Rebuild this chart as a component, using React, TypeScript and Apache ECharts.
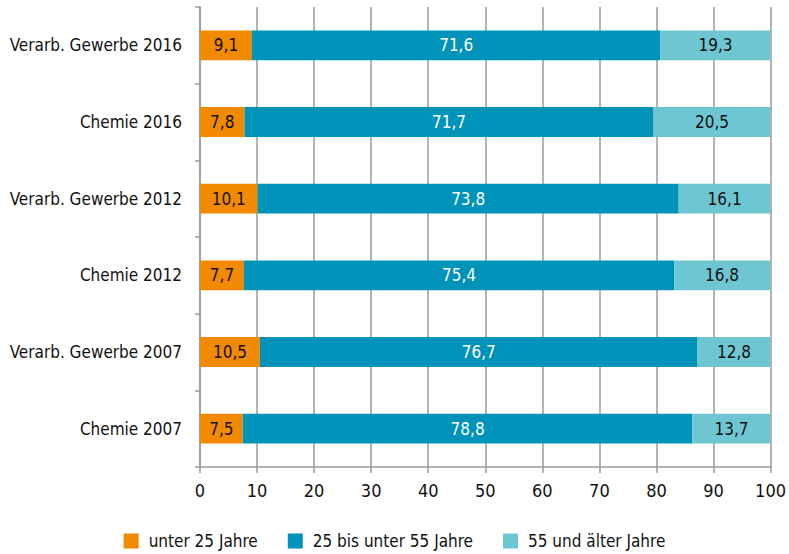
import React, { useEffect, useRef } from "react";
import * as echarts from "echarts";

const categories = [
  "Verarb. Gewerbe 2016",
  "Chemie 2016",
  "Verarb. Gewerbe 2012",
  "Chemie 2012",
  "Verarb. Gewerbe 2007",
  "Chemie 2007",
];
const under25 = [9.1, 7.8, 10.1, 7.7, 10.5, 7.5];
const mid25to55 = [71.6, 71.7, 73.8, 75.4, 76.7, 78.8];
const over55 = [19.3, 20.5, 16.1, 16.8, 12.8, 13.7];
const seriesNames = ["unter 25 Jahre", "25 bis unter 55 Jahre", "55 und älter Jahre"];
const colors = ["#F18A00", "#0093BA", "#6EC6D2"];
const labelColors = ["#111", "#fff", "#111"];

const FONT = "'Liberation Sans Narrow', 'DejaVu Sans Condensed', 'Roboto', sans-serif";

export default function App() {
  const ref = useRef<HTMLDivElement>(null);
  useEffect(() => {
    document.body.style.margin = "0";
    if (!ref.current) return;
    const chart = echarts.init(ref.current, undefined, { renderer: "svg" });
    const data = [under25, mid25to55, over55];
    chart.setOption({
      animation: false,
      textStyle: { fontFamily: FONT },
      grid: { left: 200, right: 17, top: 7, bottom: 87, containLabel: false },
      legend: {
        top: 531,
        left: "center",
        padding: 0,
        itemWidth: 15,
        itemHeight: 15,
        itemGap: 30,
        icon: "rect",
        textStyle: { fontFamily: FONT, fontSize: 17, lineHeight: 20, color: "#111", padding: [0, 0, 0, 5] },
        data: seriesNames,
      },
      xAxis: {
        type: "value",
        min: 0,
        max: 100,
        interval: 10,
        axisLine: { show: true, lineStyle: { color: "#9a9a9a", width: 1.5 } },
        axisTick: { show: true, length: 6, lineStyle: { color: "#9a9a9a", width: 1.5 } },
        splitLine: { show: true, lineStyle: { color: "#9a9a9a", width: 1.5 } },
        axisLabel: { fontFamily: FONT, fontSize: 18, color: "#111", margin: 14 },
      },
      yAxis: {
        type: "category",
        inverse: true,
        data: categories,
        axisLine: { show: true, lineStyle: { color: "#9a9a9a", width: 1.5 } },
        axisTick: { show: true, length: 5, lineStyle: { color: "#9a9a9a", width: 1.5 } },
        axisLabel: { fontFamily: FONT, fontSize: 17, color: "#111", margin: 18 },
      },
      series: seriesNames.map((name, i) => ({
        name,
        type: "bar",
        stack: "total",
        barWidth: "39%",
        data: data[i],
        itemStyle: { color: colors[i] },
        label: {
          show: true,
          position: "inside",
          color: labelColors[i],
          fontFamily: FONT,
          fontSize: 17,
          formatter: (p: any) => String(p.value).replace(".", ","),
        },
      })),
    });
    return () => chart.dispose();
  }, []);
  return <div ref={ref} style={{ width: 789, height: 554 }} />;
}
